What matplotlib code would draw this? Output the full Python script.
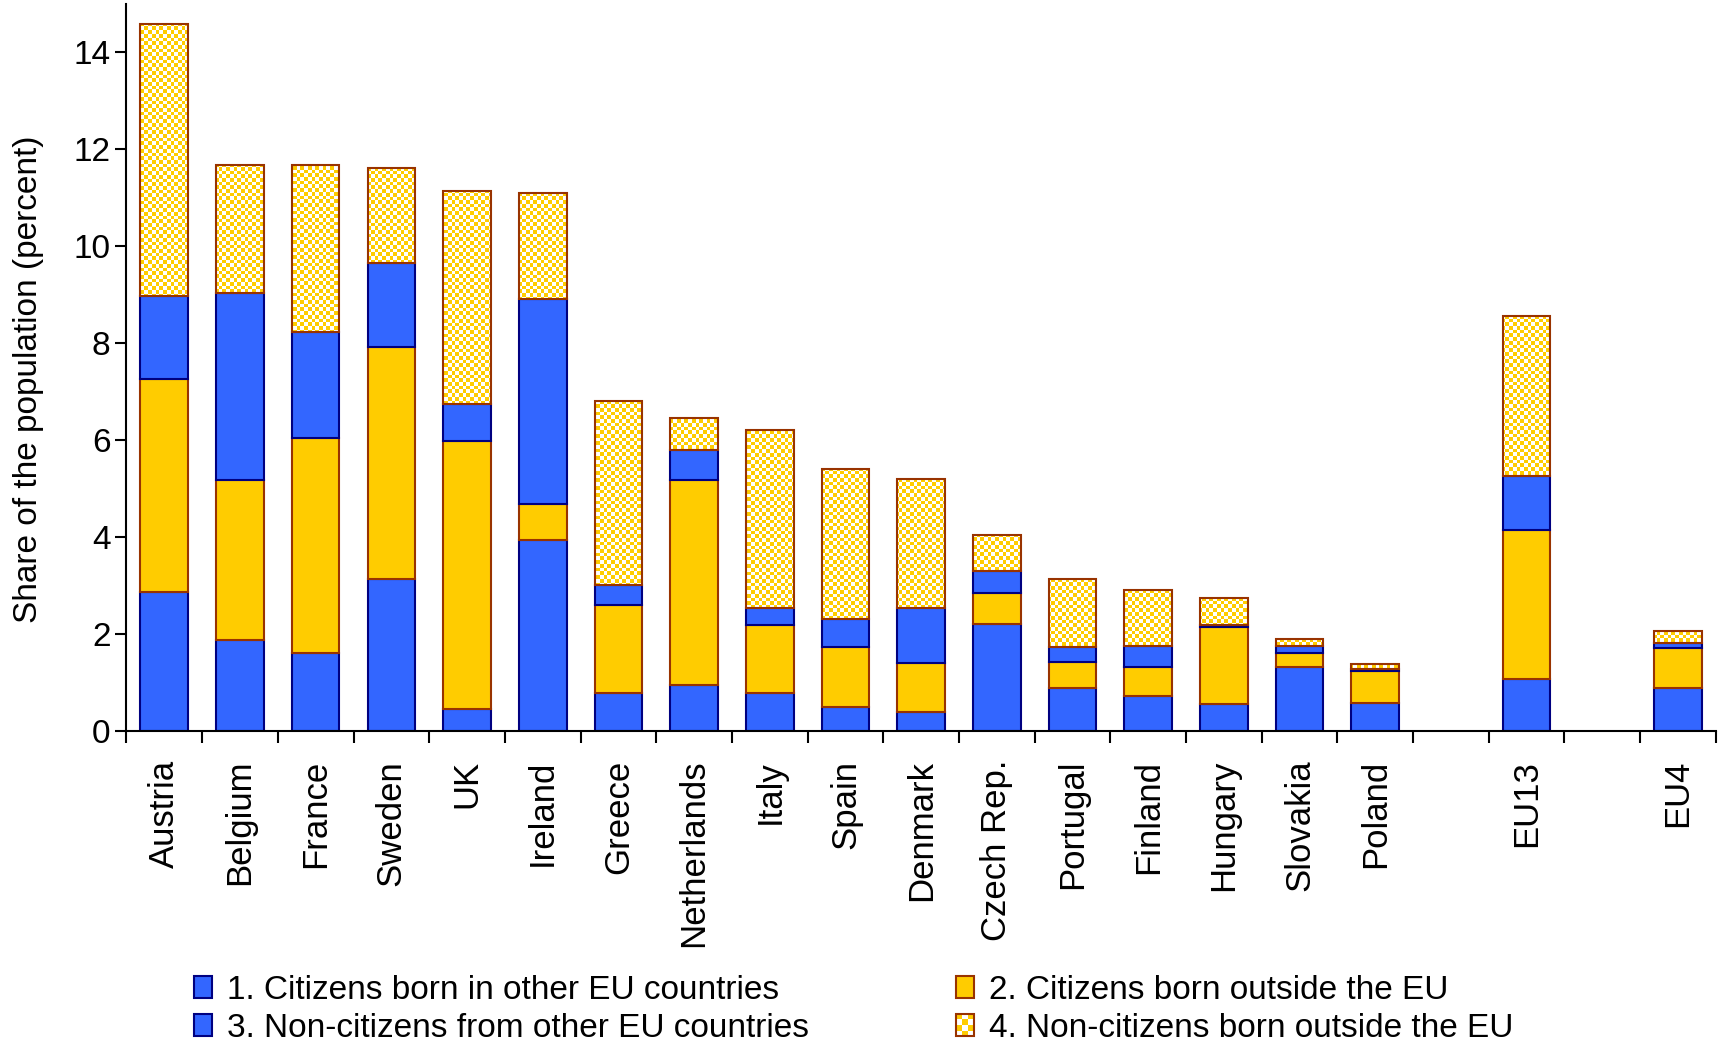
import numpy as np
import matplotlib
matplotlib.use('Agg')
import matplotlib.pyplot as plt
from matplotlib.patches import Patch, Rectangle
from matplotlib.colors import to_rgb
from matplotlib.legend_handler import HandlerBase

plt.rcParams['font.family'] = ['Liberation Sans', 'DejaVu Sans']

# foreign-born / foreign-citizen shares of the population, percent
countries = ['Austria', 'Belgium', 'France', 'Sweden', 'UK', 'Ireland', 'Greece',
             'Netherlands', 'Italy', 'Spain', 'Denmark', 'Czech Rep.', 'Portugal',
             'Finland', 'Hungary', 'Slovakia', 'Poland', 'EU13', 'EU4']
slots = list(range(17)) + [18, 20]   # empty slot before each aggregate

cit_eu       = [2.86, 1.88, 1.60, 3.14, 0.45, 3.94, 0.77, 0.94, 0.77, 0.48, 0.38, 2.20, 0.89, 0.72, 0.55, 1.31, 0.57, 1.07, 0.89]
cit_noneu    = [4.40, 3.30, 4.45, 4.79, 5.53, 0.74, 1.82, 4.23, 1.42, 1.25, 1.02, 0.64, 0.52, 0.59, 1.60, 0.29, 0.67, 3.07, 0.81]
noncit_eu    = [1.72, 3.85, 2.17, 1.72, 0.76, 4.23, 0.42, 0.63, 0.35, 0.58, 1.14, 0.45, 0.32, 0.44, 0.03, 0.15, 0.04, 1.11, 0.12]
noncit_noneu = [5.61, 2.64, 3.45, 1.96, 4.41, 2.18, 3.79, 0.65, 3.67, 3.10, 2.65, 0.74, 1.40, 1.15, 0.55, 0.14, 0.09, 3.32, 0.24]

legend_labels = ['1. Citizens born in other EU countries',
                 '2. Citizens born outside the EU',
                 '3. Non-citizens from other EU countries',
                 '4. Non-citizens born outside the EU']

BLUE = '#3366FF'
NAVY = '#000080'
YELLOW = '#FFCC00'
BROWN = '#993300'
LW = 1.5


class CheckerHandler(HandlerBase):
    # small yellow/white checkered box with a brown outline
    def create_artists(self, legend, orig_handle, xdescent, ydescent,
                       width, height, fontsize, trans):
        x0, y0 = -xdescent, -ydescent
        arts = [Rectangle((x0, y0), width, height, facecolor='white',
                          edgecolor='none', transform=trans)]
        nc, nr = 3, 4
        cw, ch = width / nc, height / nr
        for i in range(nc):
            for j in range(nr):
                if (i + j) % 2:
                    arts.append(Rectangle((x0 + i * cw, y0 + j * ch), cw, ch,
                                          facecolor=YELLOW, edgecolor='none',
                                          transform=trans))
        arts.append(Rectangle((x0, y0), width, height, fill=False,
                              edgecolor=BROWN, linewidth=LW, transform=trans))
        return arts


fig = plt.figure(figsize=(17.25, 10.47), dpi=100)
ax = fig.add_axes([0.0733, 0.3021, 0.9214, 0.6941])

x = np.array(slots)
s1 = np.array(cit_eu)
s2 = np.array(cit_noneu)
s3 = np.array(noncit_eu)
s4 = np.array(noncit_noneu)
w = 0.63

ax.bar(x, s1, w, color=BLUE, edgecolor=NAVY, linewidth=LW, zorder=2)
ax.bar(x, s2, w, bottom=s1, color=YELLOW, edgecolor=BROWN, linewidth=LW, zorder=2)
ax.bar(x, s3, w, bottom=s1 + s2, color=BLUE, edgecolor=NAVY, linewidth=LW, zorder=2)
top = ax.bar(x, s4, w, bottom=s1 + s2 + s3, color='white', edgecolor='none', zorder=2)

# yellow/white checkerboard fill for the last segment, clipped to each bar
ax_w = 0.9214 * 1725
ax_h = 0.6941 * 1047
cell = 3.7
nx, ny = int(round(ax_w / cell)), int(round(ax_h / cell))
yy, xx = np.indices((ny, nx))
checker = np.ones((ny, nx, 4))
checker[(xx + yy) % 2 == 1, :3] = to_rgb(YELLOW)
for p in top.patches:
    im = ax.imshow(checker, extent=(-0.5, 20.5, 0, 15), aspect='auto',
                   interpolation='nearest', zorder=2.1)
    im.set_clip_path(p)
ax.bar(x, s4, w, bottom=s1 + s2 + s3, fill=False, edgecolor=BROWN,
       linewidth=LW, zorder=2.2)

ax.set_xlim(-0.5, 20.5)
ax.set_ylim(0, 15)

ax.set_xticks(x)
ax.set_xticklabels(countries, rotation=90, fontsize=25)
ax.set_xticks(np.arange(-0.5, 21, 1), minor=True)
ax.tick_params(axis='x', which='major', length=0, pad=21)
ax.tick_params(axis='x', which='minor', length=8.6, width=LW, direction='out')
ax.set_yticks(range(0, 15, 2))
ax.tick_params(axis='y', length=8, width=LW, labelsize=24, pad=3.5)

for side in ['top', 'right']:
    ax.spines[side].set_visible(False)
for side in ['left', 'bottom']:
    ax.spines[side].set_linewidth(LW)

ax.set_ylabel('Share of the population (percent)', fontsize=24)
ax.yaxis.set_label_coords(-0.052, 0.483)

h1 = Patch(facecolor=BLUE, edgecolor=NAVY, linewidth=LW)
h2 = Patch(facecolor=YELLOW, edgecolor=BROWN, linewidth=LW)
h3 = Patch(facecolor=BLUE, edgecolor=NAVY, linewidth=LW)
h4 = Patch(facecolor='white', edgecolor=BROWN, linewidth=LW)

fig.legend([h1, h3, h2, h4],
           [legend_labels[0], legend_labels[2], legend_labels[1], legend_labels[3]],
           ncol=2, loc='upper left', bbox_to_anchor=(194 / 1725, (1047 - 975) / 1047),
           frameon=False, fontsize=24, handlelength=0.55, handleheight=0.65,
           handletextpad=0.45, columnspacing=4.4, labelspacing=0.2,
           borderpad=0, borderaxespad=0,
           handler_map={h4: CheckerHandler()})

fig.savefig('out.png', dpi=100)
